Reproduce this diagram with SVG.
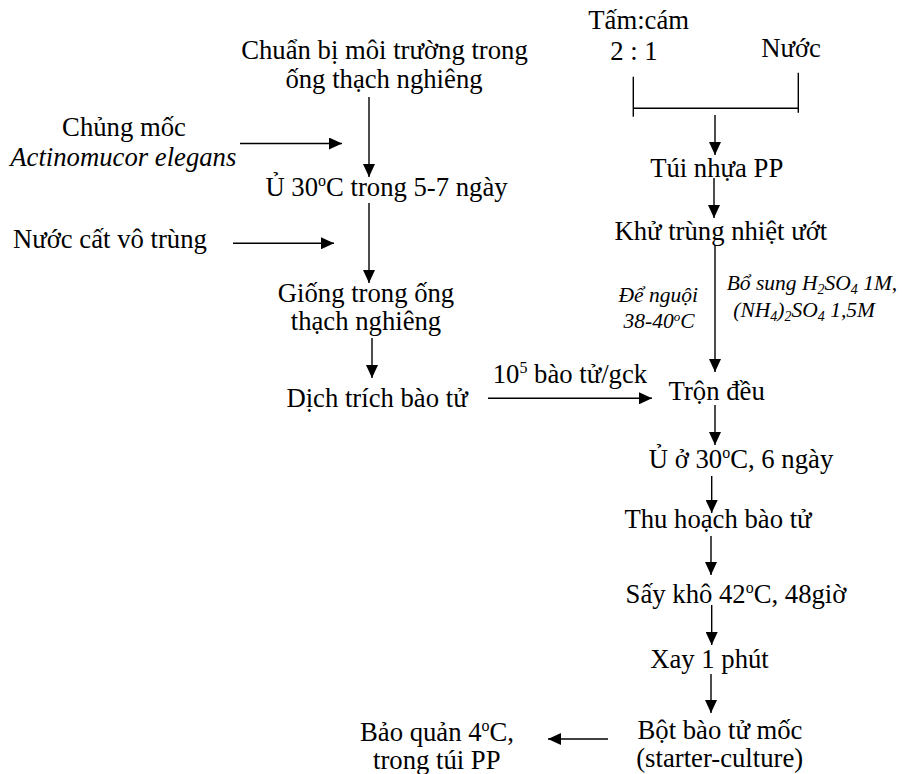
<svg xmlns="http://www.w3.org/2000/svg" width="902" height="774" viewBox="0 0 902 774">
<style>
.t{font-family:"Liberation Serif","Times New Roman","DejaVu Serif",serif;font-size:26.7px;fill:#000}
.c{text-anchor:middle}
.i{font-style:italic}
.s{font-size:21.5px;font-style:italic}
.sup{font-size:16px}
.sup2{font-size:13px}
.sub{font-size:14px}
.ln{stroke:#000;stroke-width:1.4;fill:none}
</style>
<defs>
<marker id="ah" markerUnits="userSpaceOnUse" markerWidth="13" markerHeight="12" refX="13" refY="6" orient="auto">
<path d="M0,0 L13,6 L0,12 z" fill="#000"/>
</marker>
</defs>
<rect width="902" height="774" fill="#fff"/>

<g id="connectors">
<line class="ln" x1="369" y1="97" x2="369" y2="177" marker-end="url(#ah)"/>
<line class="ln" x1="240" y1="143.5" x2="342" y2="143.5" marker-end="url(#ah)"/>
<line class="ln" x1="369" y1="203" x2="369" y2="283" marker-end="url(#ah)"/>
<line class="ln" x1="233" y1="243.3" x2="334" y2="243.3" marker-end="url(#ah)"/>
<line class="ln" x1="372" y1="338" x2="372" y2="378" marker-end="url(#ah)"/>
<line class="ln" x1="488" y1="398.3" x2="652" y2="398.3" marker-end="url(#ah)"/>
<path class="ln" d="M633.3,76.7 V116.7 M798.3,72.7 V112.7 M633.3,108.3 H798.3"/>
<line class="ln" x1="715" y1="115" x2="715" y2="155" marker-end="url(#ah)"/>
<line class="ln" x1="714" y1="178" x2="714" y2="218" marker-end="url(#ah)"/>
<line class="ln" x1="715" y1="245" x2="715" y2="372" marker-end="url(#ah)"/>
<line class="ln" x1="715" y1="405" x2="715" y2="445" marker-end="url(#ah)"/>
<line class="ln" x1="711.7" y1="476" x2="711.7" y2="513" marker-end="url(#ah)"/>
<line class="ln" x1="711" y1="536" x2="711" y2="575" marker-end="url(#ah)"/>
<line class="ln" x1="711.7" y1="605" x2="711.7" y2="645" marker-end="url(#ah)"/>
<line class="ln" x1="711" y1="674" x2="711" y2="713" marker-end="url(#ah)"/>
<line class="ln" x1="608" y1="739" x2="548" y2="739" marker-end="url(#ah)"/>
</g>

<g id="n-chuanbi">
<text class="t c" x="384.5" y="59">Chuẩn bị môi trường trong</text>
<text class="t c" x="384" y="87.5">ống thạch nghiêng</text>
</g>
<g id="n-chungmoc">
<text class="t c" x="124" y="136">Chủng mốc</text>
<text class="t c i" x="123.3" y="166">Actinomucor elegans</text>
</g>
<g id="n-u30">
<text class="t c" x="386.5" y="196">Ủ 30<tspan class="sup" dy="-10">o</tspan><tspan dy="10">C trong 5-7 ngày</tspan></text>
</g>
<g id="n-nuoccat">
<text class="t" x="13" y="248">Nước cất vô trùng</text>
</g>
<g id="n-giong">
<text class="t c" x="366" y="302">Giống trong ống</text>
<text class="t c" x="366" y="330">thạch nghiêng</text>
</g>
<g id="n-dichtrich">
<text class="t c" x="377" y="407">Dịch trích bào tử</text>
</g>
<g id="l-baotu">
<text class="t" x="492.7" y="383.3">10<tspan class="sup" dy="-10">5</tspan><tspan dy="10"> bào tử/gck</tspan></text>
</g>

<g id="n-tamcam">
<text class="t" x="588.3" y="28.5">Tấm:cám</text>
<text class="t c" x="634" y="60">2 : 1</text>
</g>
<g id="n-nuoc">
<text class="t c" x="791" y="57">Nước</text>
</g>
<g id="n-tuinhua">
<text class="t c" x="716.7" y="176.7">Túi nhựa PP</text>
</g>
<g id="n-khutrung">
<text class="t c" x="720.8" y="240">Khử trùng nhiệt ướt</text>
</g>
<g id="l-denguoi">
<text class="t s c" x="658.3" y="302">Để nguội</text>
<text class="t s c" x="659" y="328">38-40<tspan class="sup2" dy="-7">o</tspan><tspan dy="7">C</tspan></text>
</g>
<g id="l-bosung">
<text class="t s" x="726.7" y="290">Bổ sung H<tspan class="sub" dy="4">2</tspan><tspan dy="-4">SO</tspan><tspan class="sub" dy="4">4</tspan><tspan dy="-4"> 1M,</tspan></text>
<text class="t s" x="733.3" y="316.7">(NH<tspan class="sub" dy="4">4</tspan><tspan dy="-4">)</tspan><tspan class="sub" dy="4">2</tspan><tspan dy="-4">SO</tspan><tspan class="sub" dy="4">4</tspan><tspan dy="-4"> 1,5M</tspan></text>
</g>
<g id="n-tron">
<text class="t c" x="716.7" y="400">Trộn đều</text>
</g>
<g id="n-uo30">
<text class="t c" x="741" y="468">Ủ ở 30<tspan class="sup" dy="-10">o</tspan><tspan dy="10">C, 6 ngày</tspan></text>
</g>
<g id="n-thuhoach">
<text class="t c" x="718" y="528">Thu hoạch bào tử</text>
</g>
<g id="n-saykho">
<text class="t c" x="736" y="603">Sấy khô 42<tspan class="sup" dy="-10">o</tspan><tspan dy="10">C, 48giờ</tspan></text>
</g>
<g id="n-xay">
<text class="t c" x="709.5" y="668">Xay 1 phút</text>
</g>
<g id="n-bot">
<text class="t c" x="720" y="739">Bột bào tử mốc</text>
<text class="t c" x="719.7" y="767">(starter-culture)</text>
</g>
<g id="n-baoquan">
<text class="t" x="360" y="741">Bảo quản 4<tspan class="sup" dy="-10">o</tspan><tspan dy="10">C,</tspan></text>
<text class="t" x="373" y="769">trong túi PP</text>
</g>
</svg>
